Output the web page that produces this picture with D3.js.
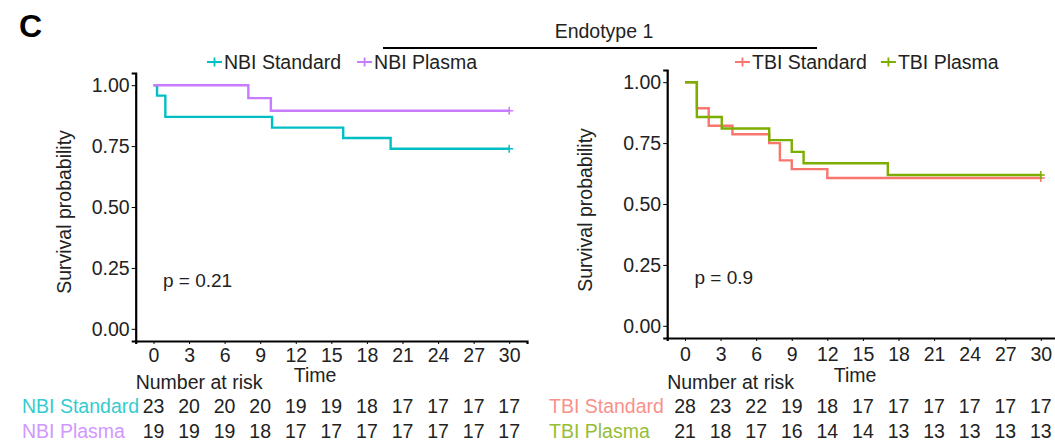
<!DOCTYPE html>
<html>
<head>
<meta charset="utf-8">
<script src="https://cdn.jsdelivr.net/npm/d3@7"></script>
<style>
  body { margin: 0; background: #fff; }
  svg { font-family: "Liberation Sans", Arial, sans-serif; }
  .axis path, .axis line { stroke: #000; }
  .axis text { fill: #222; font-size: 19.5px; }
</style>
</head>
<body>
<svg id="chart" width="1055" height="447"></svg>
<script>
// time ticks shared by both panels
var timeTicks = [0, 3, 6, 9, 12, 15, 18, 21, 24, 27, 30];
var survTicks = [0, 0.25, 0.5, 0.75, 1];

// Kaplan-Meier steps, NBI
var nbiStdTimes = [0, 0.3, 1.0, 10.0, 16.0, 20.0, 30];
var nbiStdSurv  = [1, 0.957, 0.870, 0.826, 0.783, 0.739, 0.739];
var nbiPlaTimes = [0, 8.0, 9.9, 30];
var nbiPlaSurv  = [1, 0.947, 0.895, 0.895];

// Kaplan-Meier steps, TBI
var tbiStdTimes = [0, 1.0, 2.0, 4.0, 7.1, 8.0, 9.0, 12.0, 30];
var tbiStdSurv  = [1, 0.893, 0.821, 0.786, 0.750, 0.679, 0.643, 0.607, 0.607];
var tbiPlaTimes = [0, 1.0, 3.1, 7.1, 9.0, 10.0, 17.1, 30];
var tbiPlaSurv  = [1, 0.857, 0.810, 0.762, 0.714, 0.667, 0.619, 0.619];

// number at risk
var nbiStdRisk = [23, 20, 20, 20, 19, 19, 18, 17, 17, 17, 17];
var nbiPlaRisk = [19, 19, 19, 18, 17, 17, 17, 17, 17, 17, 17];
var tbiStdRisk = [28, 23, 22, 19, 18, 17, 17, 17, 17, 17, 17];
var tbiPlaRisk = [21, 18, 17, 16, 14, 14, 13, 13, 13, 13, 13];

var pValues = ["p = 0.21", "p = 0.9"];

var colors = {
    "NBI Standard": "#00BFC4",
    "NBI Plasma": "#C77CFF",
    "TBI Standard": "#F8766D",
    "TBI Plasma": "#7CAE00"
};

var svg = d3.select("#chart");

function zip(ts, ss) {
    return ts.map(function(t, i) { return {t: t, s: ss[i]}; });
}

function KMPanel(opts) {
    var xScale = d3.scaleLinear().domain([-1.5, 31.5]).range([opts.x0, opts.x1]);
    var yScale = d3.scaleLinear().domain([-0.05, 1.05]).range([opts.y0, opts.y1]);

    var g = svg.append("g");

    // axes
    var xAxis = d3.axisBottom(xScale).tickValues(timeTicks).tickSize(3).tickPadding(opts.xPad);
    var yAxis = d3.axisLeft(yScale).tickValues(survTicks).tickSize(4).tickPadding(2)
                  .tickFormat(d3.format(".2f"));

    g.append("g")
        .attr("class", "axis")
        .attr("transform", "translate(0," + opts.y0 + ")")
        .call(xAxis)
        .call(function(a) {
            a.select(".domain").attr("stroke-width", 2.2);
        });

    g.append("g")
        .attr("class", "axis")
        .attr("transform", "translate(" + opts.x0 + ",0)")
        .call(yAxis)
        .call(function(a) {
            a.select(".domain").attr("stroke-width", 2.2);
        });

    g.append("text")
        .attr("transform", "translate(" + opts.ylabX + "," + opts.ylabY + ") rotate(-90)")
        .attr("text-anchor", "middle")
        .style("font-size", "19.5px")
        .style("fill", "#222")
        .text("Survival probability");

    g.append("text")
        .attr("x", opts.timeX)
        .attr("y", 382)
        .attr("text-anchor", "middle")
        .style("font-size", "19.5px")
        .style("fill", "#222")
        .text("Time");

    // curves
    var line = d3.line()
        .x(function(d) { return xScale(d.t); })
        .y(function(d) { return yScale(d.s); })
        .curve(d3.curveStepAfter);

    opts.series.forEach(function(s) {
        var pts = zip(s.times, s.surv);
        g.append("path")
            .datum(pts)
            .attr("d", line)
            .attr("fill", "none")
            .attr("stroke", colors[s.name])
            .attr("stroke-width", 2.4);

        // censor mark at the end
        var last = pts[pts.length - 1];
        g.append("path")
            .attr("d", "M-4,0H4M0,-4V4")
            .attr("transform", "translate(" + xScale(last.t) + "," + yScale(last.s) + ")")
            .attr("stroke", colors[s.name])
            .attr("stroke-width", 1.5);
    });

    g.append("text")
        .attr("x", xScale(0.8))
        .attr("y", yScale(0.2) + 7)
        .style("font-size", "19px")
        .style("fill", "#222")
        .text(opts.pText);

    // legend
    var lx = opts.legendX;
    opts.series.forEach(function(s, i) {
        var item = g.append("g").attr("transform", "translate(" + lx + ",62)");
        item.append("path")
            .attr("d", "M0,0H15M7.5,-4.5V4.5")
            .attr("stroke", colors[s.name])
            .attr("stroke-width", 1.8);
        var txt = item.append("text")
            .attr("x", 17)
            .attr("y", 7)
            .style("font-size", "19.5px")
            .style("fill", "#222")
            .text(s.name);
        lx += 17 + txt.node().getComputedTextLength() + opts.legendGap;
    });

    // number at risk table
    g.append("text")
        .attr("x", opts.x0)
        .attr("y", 389)
        .style("font-size", "19.5px")
        .style("fill", "#222")
        .text("Number at risk");

    opts.series.forEach(function(s, i) {
        var rowY = 413 + i * 25;
        g.append("text")
            .attr("x", opts.riskLabelX)
            .attr("y", rowY)
            .style("font-size", "19.5px")
            .style("fill", colors[s.name])
            .style("opacity", 0.8)
            .text(s.name);
        g.selectAll(null)
            .data(s.risk)
            .enter()
            .append("text")
            .attr("x", function(d, j) { return xScale(timeTicks[j]); })
            .attr("y", rowY)
            .attr("text-anchor", "middle")
            .style("font-size", "19.5px")
            .style("fill", "#222")
            .text(function(d) { return d; });
    });
}

KMPanel({
    x0: 135.7, x1: 527, y0: 341, y1: 73, xPad: 4,
    ylabX: 71, ylabY: 212, timeX: 315,
    pText: pValues[0], legendX: 207, legendGap: 16, riskLabelX: 22,
    series: [
        {name: "NBI Standard", times: nbiStdTimes, surv: nbiStdSurv, risk: nbiStdRisk},
        {name: "NBI Plasma", times: nbiPlaTimes, surv: nbiPlaSurv, risk: nbiPlaRisk}
    ]
});

KMPanel({
    x0: 667.2, x1: 1058.6, y0: 338, y1: 70, xPad: 6,
    ylabX: 592, ylabY: 210, timeX: 855,
    pText: pValues[1], legendX: 735, legendGap: 14, riskLabelX: 549,
    series: [
        {name: "TBI Standard", times: tbiStdTimes, surv: tbiStdSurv, risk: tbiStdRisk},
        {name: "TBI Plasma", times: tbiPlaTimes, surv: tbiPlaSurv, risk: tbiPlaRisk}
    ]
});

// header
svg.append("text")
    .attr("x", 19)
    .attr("y", 37)
    .style("font-size", "32px")
    .style("font-weight", "bold")
    .text("C");

svg.append("text")
    .attr("x", 604)
    .attr("y", 38)
    .attr("text-anchor", "middle")
    .style("font-size", "19.5px")
    .style("fill", "#222")
    .text("Endotype 1");

svg.append("line")
    .attr("x1", 383).attr("x2", 817)
    .attr("y1", 48).attr("y2", 48)
    .attr("stroke", "#000")
    .attr("stroke-width", 2);
</script>
</body>
</html>
